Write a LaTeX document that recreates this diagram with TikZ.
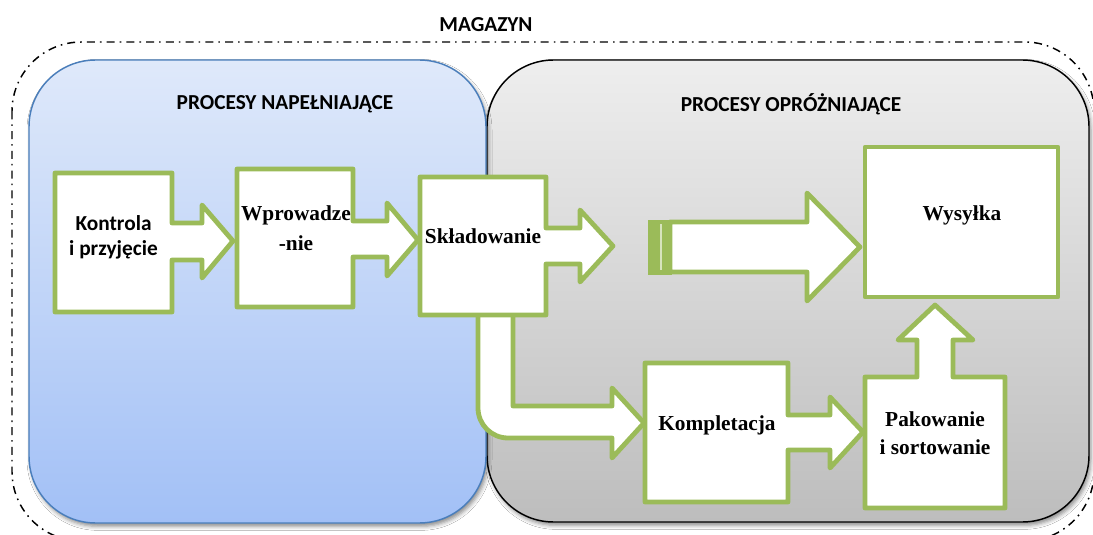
\documentclass[tikz,border=0pt]{standalone}
\usepackage{fontspec}
\setmainfont{Liberation Serif}
\newfontfamily\calibri{Carlito}
\usetikzlibrary{shadows.blur}

\definecolor{leaf}{HTML}{9BBB59}
\definecolor{leaflight}{HTML}{D7E4BD}
\definecolor{blueedge}{HTML}{4A7EBB}
\definecolor{bluetop}{HTML}{DFE9FA}
\definecolor{bluebot}{HTML}{A2C0F6}
\definecolor{graytop}{HTML}{EEEEEE}
\definecolor{graybot}{HTML}{BDBDBD}

\begin{document}
\begin{tikzpicture}[x=0.75pt, y=-0.75pt,
  stage/.style={draw=leaf, line width=3.6pt, fill=white, line join=round},
  zone/.style={line width=1.1pt, rounded corners=50pt,
    blur shadow={shadow xshift=1.5pt, shadow yshift=-2.5pt,
      shadow blur radius=3pt, shadow opacity=45}},
  title/.style={font=\calibri\bfseries\fontsize{16}{19}\selectfont, anchor=base},
  sanslabel/.style={font=\calibri\bfseries\fontsize{16}{19}\selectfont, align=center},
  serlabel/.style={font=\bfseries\fontsize{16}{22}\selectfont, align=center}]

  \useasboundingbox (0,0) rectangle (1093,535);
  \fill[white] (0,0) rectangle (1093,535);

  % warehouse boundary
  \draw[line width=1.1pt, dash pattern=on 6pt off 3.8pt on 1.2pt off 3.8pt,
        rounded corners=52pt] (12,42) rectangle (1094,541);

  % process zones
  \path[zone, draw=black, top color=graytop, bottom color=graybot]
    (487,60) rectangle (1089,522);
  \path[zone, draw=blueedge, top color=bluetop, bottom color=bluebot]
    (29,60) rectangle (486,523);

  \node[title] (magazyn) at (486,32) {MAGAZYN};
  \node[title] (napelniajace) at (285,109) {PROCESY NAPEŁNIAJĄCE};
  \node[title] (oprozniajace) at (791,112) {PROCESY OPRÓŻNIAJĄCE};

  % bent arrow from storage down to order picking
  \draw[stage] (513,300) -- (478,300) -- (478,408)
    arc[start angle=180, end angle=270, radius=22.5pt]
    -- (612,438) -- (612,458) -- (644,423) -- (612,388) -- (612,406)
    -- (513,406) -- cycle;

  % receiving
  \draw[stage] (55,173) -- (172,173) -- (172,223) -- (202,223) -- (202,205)
    -- (233,241) -- (202,278) -- (202,260) -- (172,260) -- (172,312)
    -- (55,312) -- cycle;
  % put-away
  \draw[stage] (237,169) -- (353,169) -- (353,221) -- (387,221) -- (387,203)
    -- (418,240) -- (387,276) -- (387,257) -- (353,257) -- (353,307)
    -- (237,307) -- cycle;
  % storage
  \draw[stage] (420,177) -- (546,177) -- (546,228) -- (580,228) -- (580,210)
    -- (613,246) -- (580,282) -- (580,264) -- (546,264) -- (546,315)
    -- (420,315) -- cycle;

  % striped arrow towards shipping
  \fill[leaf] (648,219.5) rectangle (672,274.5);
  \draw[leaflight, line width=1.2pt] (661,224) -- (661,270);
  \draw[stage] (670,222) -- (807,222) -- (807,193) -- (860,247) -- (807,301)
    -- (807,272) -- (670,272) -- cycle;

  % shipping
  \draw[stage] (865,147) rectangle (1058,297);
  % order picking
  \draw[stage] (645,363) -- (788,363) -- (788,415) -- (830,415) -- (830,397)
    -- (863,432) -- (830,468) -- (830,450) -- (788,450) -- (788,502)
    -- (645,502) -- cycle;
  % packing
  \draw[stage] (865,377) -- (917,377) -- (917,340) -- (898,340) -- (935,305)
    -- (973,340) -- (953,340) -- (953,377) -- (1005,377) -- (1005,508)
    -- (865,508) -- cycle;

  % labels
  \node[sanslabel] (kontrola) at (113.5,237) {Kontrola\\i przyjęcie};
  \node[serlabel, font=\bfseries\fontsize{16}{22.5}\selectfont]
    (wprowadzenie) at (296,228) {Wprowadze\\-nie};
  \node[serlabel] (skladowanie) at (483,236) {Składowanie};
  \node[serlabel] (wysylka) at (962,215) {Wysyłka};
  \node[serlabel] (kompletacja) at (717,425) {Kompletacja};
  \node[serlabel, font=\bfseries\fontsize{16}{21}\selectfont]
    (pakowanie) at (935,433) {Pakowanie\\i sortowanie};
\end{tikzpicture}
\end{document}
